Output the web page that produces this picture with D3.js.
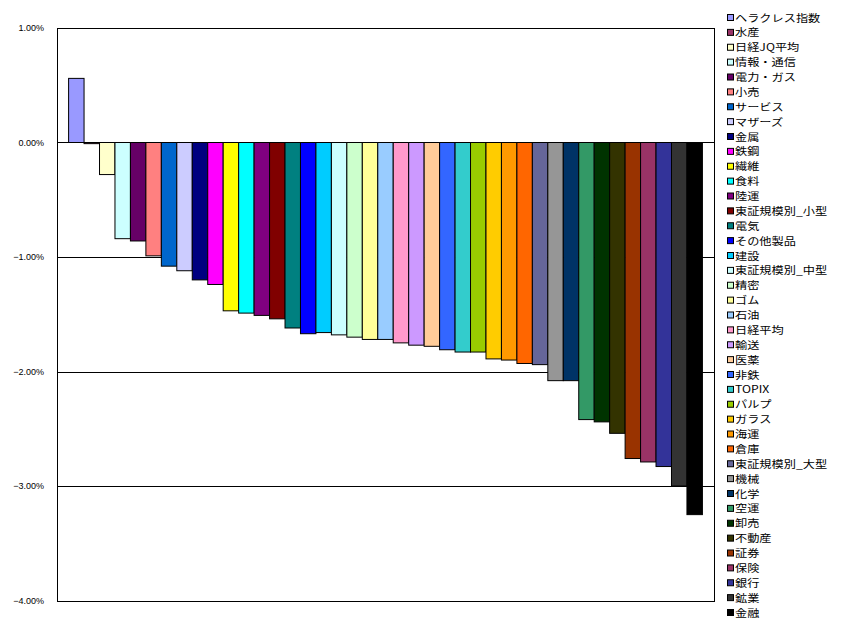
<!DOCTYPE html>
<html><head><meta charset="utf-8">
<script src="https://cdn.jsdelivr.net/npm/d3@7"></script>
<style>body{margin:0;background:#fff}svg{display:block}</style>
</head><body>
<script>
const categories = ["ヘラクレス指数","水産","日経JQ平均","情報・通信","電力・ガス","小売","サービス","マザーズ","金属","鉄鋼","繊維","食料","陸運","東証規模別_小型","電気","その他製品","建設","東証規模別_中型","精密","ゴム","石油","日経平均","輸送","医薬","非鉄","TOPIX","パルプ","ガラス","海運","倉庫","東証規模別_大型","機械","化学","空運","卸売","不動産","証券","保険","銀行","鉱業","金融"];
const values = [0.56,-0.01,-0.28,-0.84,-0.86,-0.99,-1.08,-1.12,-1.20,-1.24,-1.47,-1.49,-1.51,-1.54,-1.62,-1.67,-1.66,-1.68,-1.70,-1.72,-1.72,-1.75,-1.77,-1.78,-1.81,-1.83,-1.83,-1.89,-1.90,-1.93,-1.94,-2.08,-2.08,-2.42,-2.44,-2.54,-2.76,-2.79,-2.83,-3.00,-3.25];
const colors = ["#9999FF","#993366","#FFFFCC","#CCFFFF","#660066","#FF8080","#0066CC","#CCCCFF","#000080","#FF00FF","#FFFF00","#00FFFF","#800080","#800000","#008080","#0000FF","#00CCFF","#CCFFFF","#CCFFCC","#FFFF99","#99CCFF","#FF99CC","#CC99FF","#FFCC99","#3366FF","#33CCCC","#99CC00","#FFCC00","#FF9900","#FF6600","#666699","#969696","#003366","#339966","#003300","#333300","#993300","#993366","#333399","#333333","#000000"];
const tickValues = [1,0,-1,-2,-3,-4];

const W = 843, H = 628;
const plot = {left: 57, right: 714, top: 28, bottom: 600.5};
const svg = d3.select("body").append("svg").attr("width", W).attr("height", H);

const y = d3.scaleLinear().domain([-4, 1]).range([plot.bottom, plot.top]);
// cluster: 41 bars with 150% gap width
const n = categories.length;
const catW = plot.right - plot.left;
const bw = catW / (n + 1.5);
const x = d3.scaleBand().domain(categories)
  .range([plot.left + bw*0.75, plot.right - bw*0.75]).paddingInner(0).paddingOuter(0);

// gridlines
svg.append("g").selectAll("line").data(tickValues).join("line")
  .attr("x1", plot.left).attr("x2", plot.right)
  .attr("y1", d => Math.round(y(d)) + 0.5).attr("y2", d => Math.round(y(d)) + 0.5)
  .attr("stroke", "#000").attr("stroke-width", 1);

// bars
svg.append("g").selectAll("rect").data(categories).join("rect")
  .attr("x", d => x(d))
  .attr("width", x.bandwidth())
  .attr("y", (d, i) => Math.min(y(0), y(values[i])))
  .attr("height", (d, i) => Math.max(1, Math.abs(y(values[i]) - y(0))))
  .attr("fill", (d, i) => colors[i])
  .attr("stroke", "#000").attr("stroke-width", 1);

// plot border
svg.append("rect").attr("x", plot.left + 0.5).attr("y", Math.round(plot.top) + 0.5)
  .attr("width", plot.right - plot.left).attr("height", Math.round(plot.bottom) - Math.round(plot.top))
  .attr("fill", "none").attr("stroke", "#000");

// y axis labels
const yAxis = d3.axisLeft(y).tickValues(tickValues).tickSize(0).tickPadding(13)
  .tickFormat(d => d3.format(".2f")(d) + "%");
const ga = svg.append("g").attr("transform", `translate(${plot.left},0)`).call(yAxis);
ga.select(".domain").remove();
ga.selectAll("text").attr("font-family", "Liberation Sans, Arial, sans-serif").attr("font-size", 9).attr("fill", "#000");

// legend
const lg = svg.append("g");
const rowH = 14.875;
const items = lg.selectAll("g").data(categories).join("g")
  .attr("transform", (d, i) => `translate(727, ${18 + i*rowH})`);
items.append("rect").attr("x", 0.5).attr("y", -3.5).attr("width", 6).attr("height", 6)
  .attr("fill", (d, i) => colors[i]).attr("stroke", "#000").attr("stroke-width", 1);
items.append("text")
  .attr("transform", "translate(8,0) scale(1.22,1)")
  .attr("x", 0).attr("y", 0).attr("dy", "0.36em")
  .attr("font-family", "'Noto Sans CJK JP', sans-serif").attr("font-size", 10)
  .attr("fill", "#000").text(d => d);
</script>
</body></html>
